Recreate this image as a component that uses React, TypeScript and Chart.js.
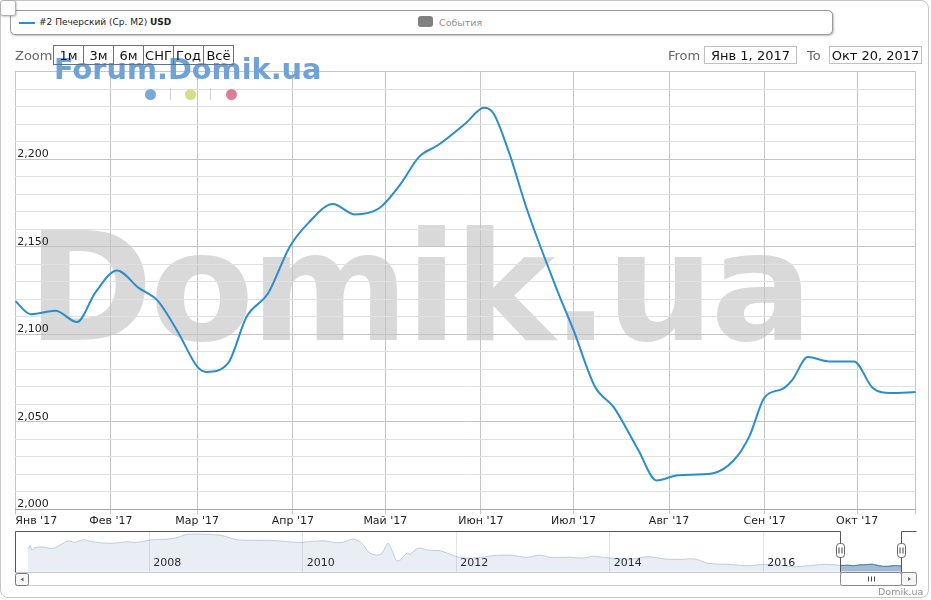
import React, { useEffect, useRef } from "react";
import { Chart, registerables } from "chart.js";

Chart.register(...registerables);

// ---------- DATA ----------
const monthLabels = ["Янв '17", "Фев '17", "Мар '17", "Апр '17", "Май '17", "Июн '17", "Июл '17", "Авг '17", "Сен '17", "Окт '17"];
const monthStartDays = [0, 31, 59, 90, 120, 151, 181, 212, 243, 273];
const lastDay = 292; // Oct 20, 2017 (days since Jan 1, 2017)

const lineDays = [0, 5, 13, 20, 26, 33, 40, 46, 53, 59, 62, 69, 75, 82, 89, 95, 103, 110, 118, 125, 131, 137, 146, 152, 155, 160, 166, 176, 181, 188, 194, 202, 208, 215, 226, 233, 238, 243, 249, 252, 257, 264, 272, 278, 284, 292];
const lineValues = [2119, 2111.5, 2113.5, 2107, 2124, 2136.5, 2126.5, 2119.5, 2100.5, 2081.5, 2078.5, 2083.5, 2110, 2123.5, 2150, 2163.5, 2174.5, 2168.5, 2172, 2186, 2201.5, 2208, 2220.5, 2229.5, 2226.5, 2204.5, 2171, 2124, 2102.5, 2070, 2058.5, 2034, 2016.5, 2019.5, 2020.5, 2028, 2041.5, 2064, 2069, 2074, 2087, 2084.5, 2084.5, 2069.5, 2066.5, 2067];

const yMin = 2000;
const yMax = 2250;
const yMinorStep = 10;
const yMajorStep = 50;

// navigator history (fractional years, USD/m2)
const navYears = [2006.42, 2006.45, 2006.47, 2006.51, 2006.62, 2006.75, 2006.94, 2007.03, 2007.14, 2007.25, 2007.49, 2007.71, 2007.84, 2008.01, 2008.23, 2008.36, 2008.49, 2008.75, 2008.96, 2009.14, 2009.44, 2009.66, 2009.92, 2010.09, 2010.27, 2010.44, 2010.55, 2010.66, 2010.77, 2010.86, 2010.96, 2011.03, 2011.11, 2011.17, 2011.22, 2011.27, 2011.35, 2011.4, 2011.5, 2011.66, 2011.79, 2012.01, 2012.14, 2012.31, 2012.48, 2012.7, 2012.92, 2013.09, 2013.22, 2013.48, 2013.65, 2013.79, 2014.0, 2014.07, 2014.28, 2014.5, 2014.72, 2014.94, 2015.11, 2015.28, 2015.54, 2015.8, 2016.0, 2016.19, 2016.41, 2016.59, 2016.8];
const navValues = [3750, 4080, 3650, 3880, 3950, 3820, 4550, 4420, 4680, 4480, 4320, 4480, 4420, 4650, 4750, 4880, 5220, 5220, 5080, 4680, 4620, 4580, 4420, 4480, 4580, 4380, 4480, 4750, 4320, 3420, 3150, 3320, 4320, 3480, 2580, 2650, 3320, 3250, 3820, 3620, 3580, 2980, 2820, 2920, 3080, 3150, 2920, 3150, 2920, 2920, 2850, 3020, 2850, 2820, 2750, 2980, 2750, 2720, 2750, 2320, 2220, 2080, 2220, 2150, 1980, 2080, 2220];
const navYearTicks = [2008, 2010, 2012, 2014, 2016];
const navXMin = 2006.254;
const navXMax = 2017.986;
const navYMin = 1480;
const navYMax = 5550;
const selYear = 2017;

const LINE_COLOR = "#2b8dcc";
const FONT = "'DejaVu Sans', Verdana, sans-serif";

const navDecor = {
  id: "navDecor",
  afterDraw(chart: any) {
    const { ctx, chartArea: a, scales } = chart;
    const x = scales.x;
    const s = Math.round(x.getPixelForValue(selYear + lineDays[0] / 365)) + 0.5;
    const e = Math.round(x.getPixelForValue(selYear + lineDays[lineDays.length - 1] / 365)) + 0.5;
    const L = Math.round(a.left) + 0.5;
    const R = Math.round(a.right) + 0.5;
    const T = Math.round(a.top) + 0.5;
    const B = Math.round(a.bottom) + 0.5;
    const rr = (x0: number, y0: number, w: number, h: number, r: number, fill: string, stroke: string) => {
      ctx.beginPath();
      ctx.roundRect(x0, y0, w, h, r);
      ctx.fillStyle = fill;
      ctx.fill();
      ctx.strokeStyle = stroke;
      ctx.stroke();
    };
    ctx.save();
    ctx.lineWidth = 1;
    // bottom edge of navigator
    ctx.strokeStyle = "#c8c8c8";
    ctx.beginPath();
    ctx.moveTo(L, B);
    ctx.lineTo(R, B);
    ctx.stroke();
    // outline
    ctx.strokeStyle = "#555";
    ctx.beginPath();
    ctx.moveTo(L, B);
    ctx.lineTo(L, T);
    ctx.lineTo(s, T);
    ctx.lineTo(s, B);
    ctx.moveTo(e, B);
    ctx.lineTo(e, T);
    ctx.lineTo(R, T);
    ctx.stroke();
    // scrollbar track
    const sbT = B;
    const sbH = 13;
    ctx.strokeStyle = "#cccccc";
    ctx.beginPath();
    ctx.moveTo(L, sbT + sbH);
    ctx.lineTo(R, sbT + sbH);
    ctx.stroke();
    // left button
    rr(L, sbT + 1, 13, sbH - 1, 2, "#f6f6f6", "#777");
    ctx.fillStyle = "#666";
    ctx.beginPath();
    ctx.moveTo(L + 5, sbT + 7);
    ctx.lineTo(L + 8, sbT + 5);
    ctx.lineTo(L + 8, sbT + 9);
    ctx.closePath();
    ctx.fill();
    // thumb
    rr(s, sbT, e - s, sbH, 2, "#ffffff", "#888");
    const c = Math.round((s + e) / 2) + 0.5;
    ctx.strokeStyle = "#444";
    ctx.beginPath();
    for (const dx of [-3, 0, 3]) {
      ctx.moveTo(c + dx, sbT + 4);
      ctx.lineTo(c + dx, sbT + 9);
    }
    ctx.stroke();
    // right button
    rr(e, sbT, R - e, sbH, 2, "#f6f6f6", "#888");
    ctx.fillStyle = "#666";
    ctx.beginPath();
    const rc = (e + R) / 2;
    ctx.moveTo(rc + 2, sbT + 6.5);
    ctx.lineTo(rc - 1, sbT + 4.5);
    ctx.lineTo(rc - 1, sbT + 8.5);
    ctx.closePath();
    ctx.fill();
    // handles
    for (const hx of [s, e]) {
      rr(hx - 4, T + 12, 8, 14, 3, "#ffffff", "#666");
      ctx.strokeStyle = "#444";
      ctx.beginPath();
      ctx.moveTo(hx - 1.5, T + 16);
      ctx.lineTo(hx - 1.5, T + 22);
      ctx.moveTo(hx + 1.5, T + 16);
      ctx.lineTo(hx + 1.5, T + 22);
      ctx.stroke();
    }
    ctx.restore();
  },
};

function MainChart() {
  const ref = useRef<HTMLCanvasElement>(null);
  useEffect(() => {
    const chart = new Chart(ref.current!, {
      type: "line",
      data: {
        datasets: [
          {
            data: lineDays.map((d, i) => ({ x: d, y: lineValues[i] })),
            borderColor: LINE_COLOR,
            borderWidth: 2,
            pointRadius: 0,
            cubicInterpolationMode: "monotone",
            fill: false,
          },
        ],
      },
      options: {
        responsive: false,
        animation: false,
        devicePixelRatio: 1,
        layout: { padding: { left: 15.3, right: 15.3, top: 11.8, bottom: 10.7 } },
        plugins: { legend: { display: false }, tooltip: { enabled: false } },
        scales: {
          x: {
            type: "linear",
            min: 0,
            max: lastDay,
            afterBuildTicks: (s: any) => {
              s.ticks = [...monthStartDays, lastDay].map((v) => ({ value: v }));
            },
            afterFit: (s: any) => {
              s.height = 20;
              s.paddingLeft = 0;
              s.paddingRight = 0;
            },
            grid: { color: "#c4c4c4", tickLength: 5, drawTicks: true },
            border: { display: true, color: "#a8a8a8" },
            ticks: {
              align: "inner",
              padding: 0,
              autoSkip: false,
              maxRotation: 0,
              color: "#222",
              font: { family: FONT, size: 11 },
              callback: (_v: any, i: number) => monthLabels[i] ?? "",
            },
          },
          y: {
            type: "linear",
            min: yMin,
            max: yMax,
            afterFit: (s: any) => {
              s.width = 0;
            },
            grid: {
              drawTicks: false,
              color: (c: any) => (c.tick && c.tick.value % yMajorStep === 0 ? "#c4c4c4" : "#e0e0e0"),
            },
            border: { display: false },
            ticks: {
              stepSize: yMinorStep,
              mirror: true,
              padding: 2,
              labelOffset: -5,
              autoSkip: false,
              color: "#222",
              font: { family: FONT, size: 11 },
              callback: (v: any) => (v % yMajorStep === 0 && v < yMax ? Number(v).toLocaleString("en-US") : ""),
            },
          },
        },
      },
    } as any);
    return () => chart.destroy();
  }, []);
  return <canvas ref={ref} width={931} height={480} style={{ position: "absolute", left: 0, top: 60, width: 931, height: 480 }} />;
}

function NavChart() {
  const ref = useRef<HTMLCanvasElement>(null);
  useEffect(() => {
    const sel = lineDays.map((d, i) => ({ x: selYear + d / 365, y: lineValues[i] }));
    const all = navYears.map((y, i) => ({ x: y, y: navValues[i] })).concat(sel);
    const chart = new Chart(ref.current!, {
      type: "line",
      data: {
        datasets: [
          {
            data: all,
            borderColor: "rgba(69,114,167,0.3)",
            backgroundColor: "rgba(69,114,167,0.12)",
            borderWidth: 1,
            pointRadius: 0,
            fill: "start",
            tension: 0.3,
          },
          {
            data: sel,
            borderColor: "#4a72aa",
            backgroundColor: "rgba(69,114,167,0.42)",
            borderWidth: 1,
            pointRadius: 0,
            fill: "start",
            tension: 0.3,
          },
        ],
      },
      options: {
        responsive: false,
        animation: false,
        devicePixelRatio: 1,
        layout: { padding: { left: 15.3, right: 15.3, top: 6, bottom: 18.3 } },
        plugins: { legend: { display: false }, tooltip: { enabled: false } },
        scales: {
          x: {
            type: "linear",
            min: navXMin,
            max: navXMax,
            z: 1,
            afterBuildTicks: (s: any) => {
              s.ticks = navYearTicks.map((v) => ({ value: v }));
            },
            afterFit: (s: any) => {
              s.height = 0;
              s.paddingLeft = 0;
              s.paddingRight = 0;
            },
            grid: { color: "#e4e4e4", drawTicks: false },
            border: { display: false },
            ticks: {
              mirror: true,
              align: "start",
              labelOffset: 4,
              padding: 2,
              autoSkip: false,
              maxRotation: 0,
              color: "#222",
              font: { family: FONT, size: 11 },
              callback: (v: any) => String(v),
            },
          },
          y: { display: false, min: navYMin, max: navYMax },
        },
      },
      plugins: [navDecor],
    } as any);
    return () => chart.destroy();
  }, []);
  return <canvas ref={ref} width={931} height={65} style={{ position: "absolute", left: 0, top: 525, width: 931, height: 65 }} />;
}

const btn: React.CSSProperties = {
  width: 30,
  height: 18,
  borderRight: "1px solid #5a7396",
  boxSizing: "border-box",
  display: "flex",
  alignItems: "center",
  justifyContent: "center",
  fontSize: 13,
  color: "#111",
};

const dateBox: React.CSSProperties = {
  position: "absolute",
  top: 46,
  height: 18,
  border: "1px solid #c0c0c0",
  boxSizing: "border-box",
  display: "flex",
  alignItems: "center",
  justifyContent: "center",
  fontSize: 13,
  color: "#111",
};

export default function App() {
  const zoomLabels = ["1м", "3м", "6м", "СНГ", "Год", "Всё"];
  return (
    <div style={{ position: "absolute", left: 0, top: 0, width: 931, height: 600, overflow: "hidden", background: "#fff", fontFamily: FONT }}>
      {/* outer frame */}
      <div style={{ position: "absolute", left: 0, top: 0, width: 929, height: 598, border: "1px solid #c6c6c6", borderRadius: 8, boxSizing: "border-box" }} />
      {/* big watermark */}
      <div style={{ position: "absolute", left: 27, top: 212, fontSize: 152, lineHeight: "152px", fontWeight: "bold", color: "#d9d9d9", letterSpacing: -3.5, whiteSpace: "nowrap" }}>Domik.ua</div>
      <MainChart />
      <NavChart />
      {/* Forum watermark */}
      <div style={{ position: "absolute", left: 54, top: 52, fontSize: 28.8, lineHeight: "34px", fontWeight: "bold", color: "#6fa2d6", whiteSpace: "nowrap" }}>Forum.Domik.ua</div>
      <div style={{ position: "absolute", left: 145, top: 89, width: 11, height: 11, borderRadius: "50%", background: "#7aa8d8" }} />
      <div style={{ position: "absolute", left: 170, top: 88, width: 1, height: 12, background: "#d0d0d0" }} />
      <div style={{ position: "absolute", left: 185, top: 89, width: 11, height: 11, borderRadius: "50%", background: "#d8dc8c" }} />
      <div style={{ position: "absolute", left: 210, top: 88, width: 1, height: 12, background: "#d0d0d0" }} />
      <div style={{ position: "absolute", left: 226, top: 89, width: 11, height: 11, borderRadius: "50%", background: "#dc7f96" }} />
      {/* legend */}
      <div style={{ position: "absolute", left: 10, top: 10, width: 823, height: 25, border: "1px solid #9a9a9a", borderRadius: 5, boxSizing: "border-box", boxShadow: "1px 1px 2px rgba(0,0,0,0.25)", background: "#fff" }}>
        <div style={{ position: "absolute", left: 8, top: 11, width: 16, height: 2, background: LINE_COLOR }} />
        <div style={{ position: "absolute", left: 28, top: 5, fontSize: 9, lineHeight: "13px", color: "#222", whiteSpace: "nowrap" }}>
          #2 Печерский (Ср. М2) <b>USD</b>
        </div>
        <div style={{ position: "absolute", left: 407, top: 5, width: 15, height: 11, borderRadius: 3, background: "#808080" }} />
        <div style={{ position: "absolute", left: 428, top: 5, fontSize: 9.5, lineHeight: "13px", color: "#909090", whiteSpace: "nowrap" }}>События</div>
      </div>
      {/* top-left small box */}
      <div style={{ position: "absolute", left: 0, top: 0, width: 16, height: 16, border: "1px solid #b0b0b0", borderRadius: 3, boxSizing: "border-box", background: "#fff", boxShadow: "1px 1px 2px rgba(0,0,0,0.2)" }} />
      {/* zoom row */}
      <div style={{ position: "absolute", left: 15, top: 47, fontSize: 13, lineHeight: "18px", color: "#666" }}>Zoom</div>
      <div style={{ position: "absolute", left: 53, top: 46, height: 18, display: "flex", borderTop: "1px solid #5a7396", borderBottom: "1px solid #5a7396", borderLeft: "1px solid #5a7396", boxSizing: "content-box", marginTop: -1 }}>
        {zoomLabels.map((z) => (
          <div key={z} style={btn}>{z}</div>
        ))}
      </div>
      <div style={{ position: "absolute", left: 668, top: 47, fontSize: 13, lineHeight: "18px", color: "#666" }}>From</div>
      <div style={{ ...dateBox, left: 704, width: 93 }}>Янв 1, 2017</div>
      <div style={{ position: "absolute", left: 807, top: 47, fontSize: 13, lineHeight: "18px", color: "#666" }}>To</div>
      <div style={{ ...dateBox, left: 829, width: 93 }}>Окт 20, 2017</div>
      {/* credit */}
      <div style={{ position: "absolute", left: 878, top: 585, fontSize: 9.5, lineHeight: "13px", color: "#909090" }}>Domik.ua</div>
    </div>
  );
}
